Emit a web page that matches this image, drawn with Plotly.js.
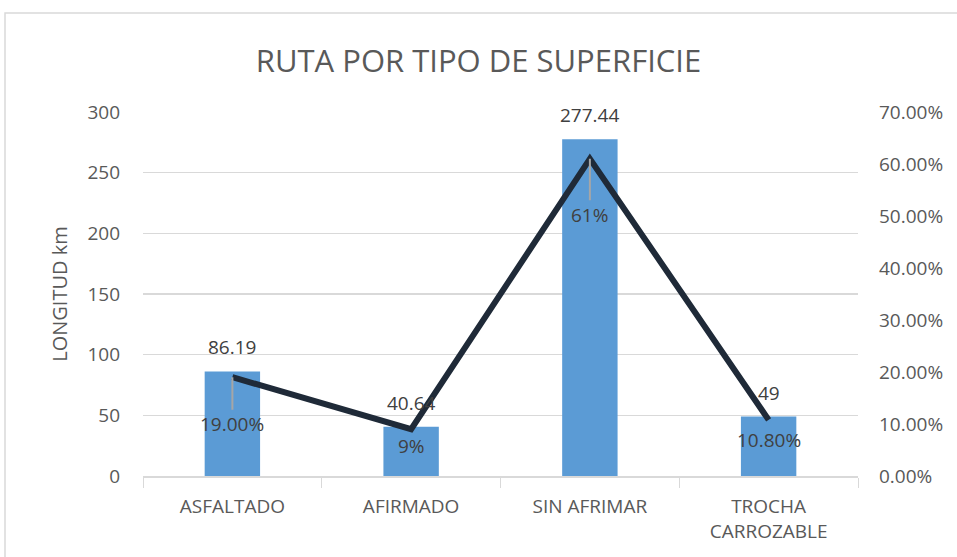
<!DOCTYPE html>
<html>
<head>
<meta charset="utf-8">
<script src="https://cdn.plot.ly/plotly-3.0.1.min.js"></script>
<style>
  html, body { margin: 0; padding: 0; background: #fff; }
  #chart { width: 957px; height: 557px; }
</style>
</head>
<body>
<div id="chart"></div>
<script>
// Ruta por tipo de superficie: longitud (barras) y porcentaje (línea)
const categories = ['ASFALTADO', 'AFIRMADO', 'SIN AFRIMAR', 'TROCHA<br>CARROZABLE'];
const longitudKm = [86.19, 40.64, 277.44, 49];
const longitudText = ['86.19', '40.64', '277.44', '49'];
const porcentaje = [0.19, 0.09, 0.61, 0.108];
const porcentajeText = ['19.00%', '9%', '61%', '10.80%'];

const textColor = '#595959';
const labelFont = { family: 'Open Sans, sans-serif', size: 19, color: '#404040' };

const bars = {
  x: categories,
  y: longitudKm,
  type: 'bar',
  width: 0.31,
  marker: { color: '#5b9bd5' },
  hoverinfo: 'skip'
};

const line = {
  x: categories,
  y: porcentaje,
  yaxis: 'y2',
  type: 'scatter',
  mode: 'lines',
  line: { color: '#1f2a38', width: 6 },
  hoverinfo: 'skip'
};

// bar value labels above each bar
const barLabels = categories.map((c, i) => ({
  x: c,
  y: longitudKm[i],
  xref: 'x',
  yref: 'y',
  text: longitudText[i],
  font: labelFont,
  showarrow: false,
  yanchor: 'middle',
  yshift: 24
}));

// Line labels sit below each point, with a grey leader line for the long ones
const offsets = [47, 17, 56, 20];
const lineLabels = categories.map((c, i) => ({
  x: c,
  y: porcentaje[i],
  xref: 'x',
  yref: 'y2',
  text: porcentajeText[i],
  font: labelFont,
  showarrow: offsets[i] > 30,
  arrowhead: 0,
  arrowwidth: 2,
  arrowcolor: '#a6a6a6',
  ax: 0,
  ay: offsets[i],
  yanchor: 'middle',
  yshift: offsets[i] > 30 ? 0 : -offsets[i]
}));

const layout = {
  width: 957,
  height: 557,
  margin: { t: 112, l: 143, r: 99, b: 81 },
  showlegend: false,
  font: { family: 'Open Sans, sans-serif', color: textColor },
  plot_bgcolor: '#fff',
  paper_bgcolor: '#fff',
  title: {
    text: 'RUTA POR TIPO DE SUPERFICIE',
    font: { size: 31, color: textColor },
    x: 0.5,
    xanchor: 'center',
    y: 0.891,
    yanchor: 'middle'
  },
  xaxis: {
    type: 'category',
    showline: true,
    linecolor: '#d9d9d9',
    linewidth: 1.5,
    ticks: 'outside',
    tickson: 'boundaries',
    ticklen: 10,
    tickcolor: '#d9d9d9',
    ticklabelstandoff: 13,
    tickfont: { size: 19, color: textColor }
  },
  yaxis: {
    range: [0, 300],
    dtick: 50,
    gridcolor: '#d9d9d9',
    gridwidth: 1.5,
    zeroline: false,
    ticklabelstandoff: 22,
    tickfont: { size: 19, color: textColor },
    title: { text: 'LONGITUD km', font: { size: 20, color: textColor }, standoff: 14 }
  },
  yaxis2: {
    overlaying: 'y',
    side: 'right',
    range: [0, 0.7],
    dtick: 0.1,
    tickformat: '.2%',
    showgrid: false,
    zeroline: false,
    ticklabelstandoff: 20,
    tickfont: { size: 19, color: textColor }
  },
  annotations: barLabels.concat(lineLabels),
  shapes: [{
    type: 'rect',
    xref: 'paper', yref: 'paper',
    x0: -0.193, x1: 1.2, y0: -0.3, y1: 1.272,
    line: { color: '#d9d9d9', width: 1.5 }
  }]
};

Plotly.newPlot('chart', [bars, line], layout, { displayModeBar: false, staticPlot: true });
</script>
</body>
</html>
